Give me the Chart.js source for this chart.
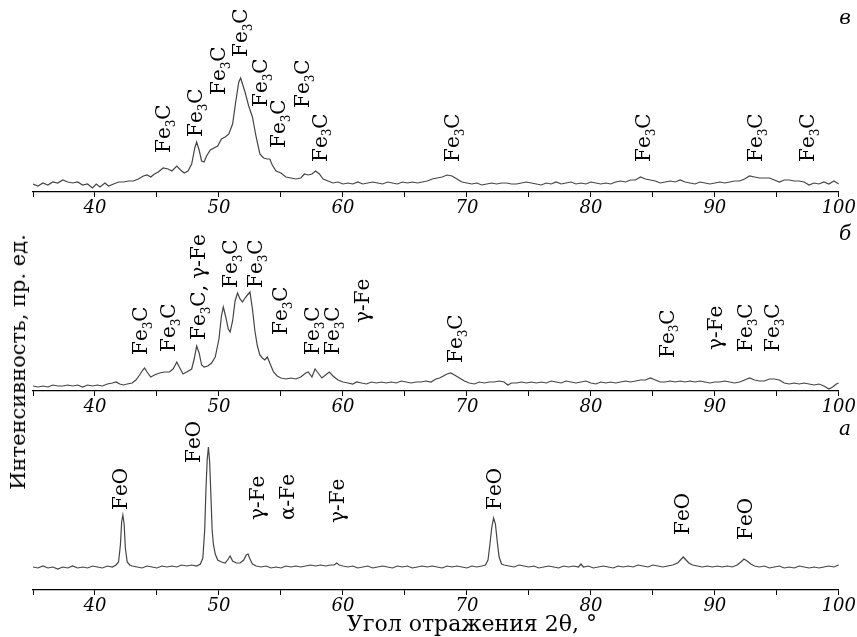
<!DOCTYPE html>
<html><head><meta charset="utf-8">
<script src="https://cdn.jsdelivr.net/npm/chart.js@4.4.1/dist/chart.umd.min.js"></script>
<style>
html,body{margin:0;padding:0;background:#fff;width:857px;height:637px;overflow:hidden;font-family:"DejaVu Serif",serif;}
.pane{position:absolute;left:0;width:857px;}
.txt{position:absolute;color:#000;white-space:nowrap;transform:translate(-50%,-50%);}
</style></head><body>
<div class="pane" style="top:0;height:222px"><canvas id="cV" width="857" height="222" style="width:857px;height:222px"></canvas></div>
<div class="pane" style="top:222px;height:199px"><canvas id="cB" width="857" height="199" style="width:857px;height:199px"></canvas></div>
<div class="pane" style="top:421px;height:199px"><canvas id="cA" width="857" height="199" style="width:857px;height:199px"></canvas></div>
<div class="txt" style="left:845px;top:17px;font-style:italic;font-size:20px">в</div>
<div class="txt" style="left:845px;top:233px;font-style:italic;font-size:20px">б</div>
<div class="txt" style="left:845px;top:428px;font-style:italic;font-size:20px">а</div>
<div class="txt" style="left:18px;top:362px;font-size:21px;transform:translate(-50%,-50%) rotate(-90deg)">Интенсивность, пр. ед.</div>
<div class="txt" style="left:472px;top:623px;font-size:22px">Угол отражения 2θ, °</div>
<script>
// ---- Panel "в" (top) ----
const xV = [35.0,35.4,35.8,36.2,36.6,37.0,37.4,37.8,38.2,38.6,39.0,39.4,39.8,40.1,40.4,40.8,41.1,41.5,41.9,42.3,42.7,43.1,43.5,43.9,44.2,44.5,44.8,45.1,45.5,45.9,46.2,46.6,46.9,47.2,47.5,47.8,48.05,48.2,48.4,48.6,48.8,49.0,49.3,49.6,49.9,50.2,50.5,50.8,51.1,51.35,51.6,51.75,51.9,52.1,52.4,52.7,53.0,53.3,53.6,53.9,54.1,54.3,54.6,55.0,55.4,55.8,56.2,56.6,56.9,57.2,57.5,57.8,58.1,58.4,58.8,59.2,59.6,60.0,60.4,60.8,61.2,61.6,62.0,62.4,62.8,63.2,63.6,64.0,64.4,64.8,65.2,65.6,66.0,66.4,66.8,67.2,67.6,68.0,68.4,68.8,69.2,69.6,70.0,70.4,70.8,71.2,71.6,72.0,72.4,72.8,73.2,73.6,74.0,74.4,74.8,75.2,75.6,76.0,76.4,76.8,77.2,77.6,78.0,78.4,78.8,79.2,79.6,80.0,80.4,80.8,81.2,81.6,82.0,82.4,82.8,83.2,83.6,84.0,84.4,84.8,85.2,85.6,86.0,86.4,86.8,87.2,87.6,88.0,88.4,88.8,89.2,89.6,90.0,90.4,90.8,91.2,91.6,92.0,92.4,92.8,93.2,93.6,94.0,94.4,94.8,95.2,95.6,96.0,96.4,96.8,97.2,97.6,98.0,98.4,98.8,99.2,99.6,100.0];
const yV = [8,6,9,7,10,9,12,10,9,10,7,8,4,8,5,9,6,8,10,10,11,11,13,16,17,15,18,20,24,23,21,26,22,19,21,28,44,50,42,31,30,36,42,44,46,53,55,58,68,90,110,114,108,100,86,75,55,38,34,33,33,27,21,19,15,14,13,14,18,17,18,21,18,13,11,9,10,8,9,8,10,8,9,10,9,8,10,9,8,10,9,10,9,10,11,13,14,15,17,16,13,10,9,8,9,7,8,9,8,9,9,8,8,9,10,9,8,7,9,8,10,8,9,10,8,9,8,10,9,8,9,8,10,11,10,12,12,15,13,12,11,9,10,11,10,12,10,9,8,10,9,8,9,10,9,10,11,11,13,16,15,14,14,14,12,10,12,12,11,11,10,7,9,8,10,8,11,8];
const lblV = [
  {x:45.5,y:39,t:"Fe_3C"},{x:48.05,y:55,t:"Fe_3C"},{x:49.9,y:97,t:"Fe_3C"},{x:51.7,y:135,t:"Fe_3C"},
  {x:53.3,y:85,t:"Fe_3C"},{x:54.75,y:44,t:"Fe_3C"},{x:56.7,y:84,t:"Fe_3C"},{x:58.1,y:30,t:"Fe_3C"},
  {x:68.8,y:30,t:"Fe_3C"},{x:84.2,y:30,t:"Fe_3C"},{x:93.2,y:30,t:"Fe_3C"},{x:97.4,y:30,t:"Fe_3C"}];

// ---- Panel "б" (middle) ----
const xB = [35.0,35.4,35.8,36.2,36.6,37.0,37.4,37.8,38.2,38.6,39.0,39.4,39.8,40.2,40.6,41.0,41.4,41.7,42.0,42.3,42.6,43.0,43.3,43.6,43.85,44.0,44.2,44.5,44.8,45.2,45.6,46.0,46.3,46.6,46.8,47.1,47.4,47.8,48.0,48.2,48.4,48.6,48.8,49.1,49.4,49.7,50.0,50.2,50.35,50.55,50.75,50.9,51.1,51.3,51.5,51.7,51.9,52.1,52.3,52.5,52.7,52.9,53.1,53.3,53.5,53.7,53.9,54.1,54.4,54.7,55.0,55.4,55.8,56.2,56.6,57.0,57.2,57.5,57.75,58.0,58.3,58.6,58.9,59.2,59.6,60.0,60.4,60.8,61.1,61.5,61.9,62.3,62.7,63.1,63.5,63.9,64.3,64.7,65.1,65.5,65.9,66.3,66.7,67.1,67.5,67.8,68.1,68.4,68.7,69.0,69.4,69.8,70.2,70.6,71.0,71.4,71.8,72.2,72.6,73.0,73.3,73.6,74.0,74.4,74.8,75.2,75.6,76.0,76.4,76.8,77.2,77.6,78.0,78.4,78.8,79.2,79.6,80.0,80.4,80.8,81.2,81.6,82.0,82.4,82.8,83.2,83.6,84.0,84.4,84.8,85.2,85.6,86.0,86.4,86.8,87.2,87.6,88.0,88.4,88.8,89.2,89.6,90.0,90.4,90.8,91.2,91.6,92.0,92.4,92.8,93.2,93.6,94.0,94.4,94.8,95.2,95.6,96.0,96.4,96.8,97.2,97.6,98.0,98.4,98.8,99.2,99.5,99.8,100.0];
const yB = [5,4,5,4,6,5,5,6,5,6,4,6,5,6,5,7,8,9,7,6,7,8,11,16,21,23,19,14,16,18,19,19,22,29,24,17,19,22,32,45,38,26,24,25,28,34,52,75,84,74,62,59,70,90,98,92,89,93,96,99,82,60,45,36,33,31,34,28,19,15,13,12,13,12,14,18,19,14,22,18,13,16,19,15,11,9,8,7,9,8,7,9,8,9,8,9,8,10,9,8,9,9,10,9,12,13,15,17,18,16,13,10,8,7,9,8,9,9,10,9,6,8,8,9,8,9,8,9,8,10,9,8,10,9,8,9,10,8,7,9,8,9,8,9,10,9,10,11,11,13,11,9,9,10,9,10,9,10,9,10,9,8,9,9,10,9,8,9,11,13,11,10,10,12,12,11,8,7,8,7,8,7,6,7,5,2,4,7,8];
const lblB = [
  {x:43.6,y:36,t:"Fe_3C"},{x:45.9,y:39,t:"Fe_3C"},{x:48.3,y:51,t:"Fe_3C, γ-Fe"},{x:50.9,y:103,t:"Fe_3C"},
  {x:52.9,y:103,t:"Fe_3C"},{x:54.9,y:56,t:"Fe_3C"},{x:57.5,y:36,t:"Fe_3C"},{x:59.1,y:36,t:"Fe_3C"},
  {x:61.5,y:68,t:"γ-Fe"},{x:69.0,y:28,t:"Fe_3C"},{x:86.1,y:33,t:"Fe_3C"},{x:90.0,y:41,t:"γ-Fe"},
  {x:92.4,y:39,t:"Fe_3C"},{x:94.6,y:39,t:"Fe_3C"}];

// ---- Panel "а" (bottom) ----
const xA = [35.0,35.4,35.8,36.2,36.6,37.0,37.4,37.8,38.2,38.6,39.0,39.4,39.8,40.2,40.6,41.0,41.4,41.7,41.9,42.05,42.15,42.25,42.35,42.45,42.6,42.8,43.0,43.4,43.8,44.2,44.6,45.0,45.4,45.8,46.2,46.6,47.0,47.4,47.8,48.2,48.5,48.7,48.85,48.95,49.05,49.15,49.25,49.35,49.45,49.55,49.7,49.9,50.2,50.5,50.75,50.9,51.1,51.4,51.7,52.0,52.2,52.35,52.5,52.7,53.0,53.4,53.8,54.2,54.6,55.0,55.4,55.8,56.2,56.6,57.0,57.4,57.8,58.2,58.6,59.0,59.3,59.5,59.7,60.0,60.4,60.8,61.2,61.6,62.0,62.4,62.8,63.2,63.6,64.0,64.4,64.8,65.2,65.6,66.0,66.4,66.8,67.2,67.6,68.0,68.4,68.8,69.2,69.6,70.0,70.4,70.8,71.2,71.5,71.7,71.85,72.0,72.15,72.3,72.45,72.6,72.8,73.0,73.4,73.8,74.2,74.6,75.0,75.4,75.8,76.2,76.6,77.0,77.4,77.8,78.2,78.6,79.0,79.2,79.4,79.8,80.2,80.6,81.0,81.4,81.8,82.2,82.6,83.0,83.4,83.8,84.2,84.6,85.0,85.4,85.8,86.2,86.6,87.0,87.3,87.45,87.6,87.9,88.2,88.6,89.0,89.4,89.8,90.2,90.6,91.0,91.4,91.8,92.1,92.35,92.6,92.9,93.2,93.6,94.0,94.4,94.8,95.2,95.6,96.0,96.4,96.8,97.2,97.6,98.0,98.4,98.8,99.2,99.6,100.0];
const yA = [23,22,24,22,23,21,23,22,24,22,23,22,24,23,22,24,23,25,28,45,68,75,66,42,28,25,24,23,22,24,23,22,24,23,24,23,25,24,25,24,26,32,60,100,130,143,128,95,60,46,36,30,28,27,31,34,29,27,27,30,35,36,31,26,24,23,24,22,23,22,24,23,24,23,24,25,24,25,24,25,25,27,25,24,23,24,22,23,24,22,23,24,23,22,24,23,24,22,23,24,23,24,23,22,24,23,24,23,22,24,23,24,25,30,45,62,72,66,48,33,26,25,24,23,25,24,23,24,22,23,24,23,22,24,23,24,23,26,23,24,22,23,24,23,22,24,23,24,23,25,24,23,25,24,23,24,25,27,31,33,31,27,25,24,23,24,23,24,23,24,23,25,28,31,29,26,24,23,24,22,23,24,22,23,22,24,23,22,23,22,23,24,23,25];
const lblA = [
  {x:42.0,y:80,t:"FeO"},{x:47.9,y:127,t:"FeO"},{x:53.05,y:70,t:"γ-Fe"},{x:55.5,y:70,t:"α-Fe"},
  {x:59.5,y:67,t:"γ-Fe"},{x:72.2,y:80,t:"FeO"},{x:87.3,y:55,t:"FeO"},{x:92.4,y:50,t:"FeO"}];

const xTicks = {min:35, max:100, step:5};
const FONT = '"DejaVu Serif", serif';
const LBL_SIZE = 20;

function drawRich(ctx, str, size){
  let x = 0;
  for (let i = 0; i < str.length; i++){
    let ch = str[i], sub = false;
    if (ch === '_'){ sub = true; ch = str[++i]; }
    ctx.font = (sub ? Math.round(size*0.62) : size) + 'px ' + FONT;
    ctx.fillText(ch, x, sub ? size*0.24 : 0);
    x += ctx.measureText(ch).width;
  }
}

const peakLabels = {
  id: 'peakLabels',
  afterDatasetsDraw(chart, args, opts){
    const ctx = chart.ctx, xs = chart.scales.x, ys = chart.scales.y;
    ctx.save();
    ctx.fillStyle = '#000';
    ctx.textAlign = 'left';
    ctx.textBaseline = 'alphabetic';
    (opts.items || []).forEach(it => {
      const px = xs.getPixelForValue(it.x), py = ys.getPixelForValue(it.y);
      ctx.save();
      ctx.translate(px + LBL_SIZE*0.36, py);
      ctx.rotate(-Math.PI/2);
      drawRich(ctx, it.t, LBL_SIZE);
      ctx.restore();
    });
    ctx.restore();
  }
};

function makePanel(id, xs, ys, yMax, items){
  new Chart(document.getElementById(id), {
    type: 'line',
    data: { datasets: [{
      data: xs.map((x, i) => ({x, y: ys[i]})),
      borderColor: '#444444', borderWidth: 1.2, pointRadius: 0, tension: 0, fill: false
    }]},
    options: {
      responsive: false, animation: false, devicePixelRatio: 1,
      layout: { padding: {left: 33, right: 16, top: 0, bottom: 0} },
      plugins: { legend: {display: false}, tooltip: {enabled: false}, peakLabels: {items} },
      scales: {
        x: {
          type: 'linear', min: xTicks.min, max: xTicks.max,
          afterFit: s => { s.height = 30; },
          ticks: { stepSize: xTicks.step, autoSkip: false, maxRotation: 0, minRotation: 0,
                   color: '#000', padding: 1,
                   font: {family: FONT, style: 'italic', size: 18},
                   callback: v => (v % 10 === 0 ? String(v) : '') },
          grid: { drawOnChartArea: false, drawTicks: true, tickLength: 5, color: '#000', lineWidth: 1 },
          border: { display: true, color: '#000', width: 1.2 }
        },
        y: { display: false, min: 0, max: yMax }
      }
    },
    plugins: [peakLabels]
  });
}

makePanel('cV', xV, yV, 192, lblV);
makePanel('cB', xB, yB, 169, lblB);
makePanel('cA', xA, yA, 169, lblA);
</script>
</body></html>
